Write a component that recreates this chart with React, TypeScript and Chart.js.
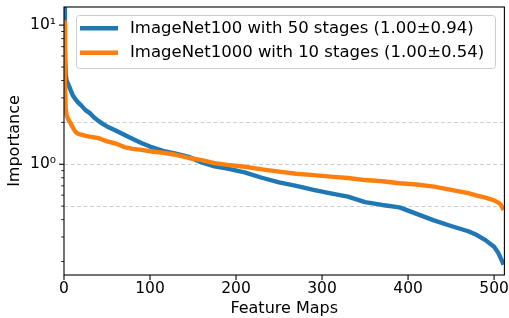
import React, { useEffect, useRef } from 'react';
import { Chart, registerables } from 'chart.js';

Chart.register(...registerables);

const FONT = "'DejaVu Sans', sans-serif";

const featureIdx = [0, 1, 2, 3, 5, 7, 10, 13, 16, 20, 25, 30, 35, 40, 45, 50, 60, 70, 80, 90, 100, 115, 130, 145, 160, 175, 190, 210, 230, 250, 270, 290, 310, 330, 350, 370, 390, 410, 430, 450, 470, 480, 490, 500, 505, 508, 511];

const imagenet100 = [18, 7, 4.4, 4.0, 3.75, 3.5, 3.15, 2.95, 2.8, 2.65, 2.45, 2.33, 2.17, 2.05, 1.95, 1.87, 1.75, 1.63, 1.52, 1.42, 1.34, 1.25, 1.19, 1.13, 1.03, 0.965, 0.93, 0.875, 0.8, 0.74, 0.7, 0.655, 0.617, 0.585, 0.535, 0.51, 0.49, 0.44, 0.395, 0.36, 0.33, 0.31, 0.285, 0.255, 0.23, 0.21, 0.19];

const imagenet1000 = [10.5, 4.0, 2.5, 2.25, 2.1, 2.0, 1.85, 1.72, 1.66, 1.63, 1.6, 1.58, 1.56, 1.54, 1.5, 1.46, 1.41, 1.33, 1.29, 1.27, 1.24, 1.21, 1.17, 1.11, 1.07, 1.02, 0.99, 0.96, 0.92, 0.885, 0.855, 0.835, 0.815, 0.797, 0.77, 0.755, 0.73, 0.715, 0.69, 0.655, 0.62, 0.595, 0.575, 0.55, 0.53, 0.51, 0.47];

const seriesLabels = ['ImageNet100 with 50 stages (1.00±0.94)', 'ImageNet1000 with 10 stages (1.00±0.54)'];
const seriesColors = ['#1f77b4', '#ff7f0e'];

const xTicks = [0, 100, 200, 300, 400, 500];
const yTicks = [0.2, 0.3, 0.4, 0.5, 0.6, 0.7, 0.8, 0.9, 1, 2, 3, 4, 5, 6, 7, 8, 9, 10];
const yMajorTicks = [1, 10];
const yMajorLabels = ['10⁰', '10¹'];
const yGridValues = [0.5, 1, 2];

const axesPlugin = {
  id: 'mplAxes',
  beforeDatasetsDraw(chart: any) {
    const { ctx, chartArea } = chart;
    const y = chart.scales.y;
    ctx.save();
    ctx.strokeStyle = 'rgba(176,176,176,0.6)';
    ctx.lineWidth = 1;
    ctx.setLineDash([4, 2.5]);
    for (const v of yGridValues) {
      const py = Math.round(y.getPixelForValue(v)) + 0.5;
      ctx.beginPath();
      ctx.moveTo(chartArea.left, py);
      ctx.lineTo(chartArea.right, py);
      ctx.stroke();
    }
    ctx.restore();
  },
  afterDatasetsDraw(chart: any) {
    const { ctx, chartArea } = chart;
    const x = chart.scales.x;
    const y = chart.scales.y;
    ctx.save();
    ctx.strokeStyle = '#000';
    ctx.setLineDash([]);
    ctx.lineWidth = 1.1;
    ctx.strokeRect(chartArea.left, chartArea.top, chartArea.right - chartArea.left, chartArea.bottom - chartArea.top);
    for (const v of xTicks) {
      const px = x.getPixelForValue(v);
      ctx.beginPath();
      ctx.moveTo(px, chartArea.bottom);
      ctx.lineTo(px, chartArea.bottom + 4.9);
      ctx.stroke();
    }
    for (const v of yTicks) {
      const major = yMajorTicks.includes(v);
      const py = y.getPixelForValue(v);
      ctx.lineWidth = major ? 1.1 : 0.85;
      const len = major ? 4.9 : 2.8;
      ctx.beginPath();
      ctx.moveTo(chartArea.left - len, py);
      ctx.lineTo(chartArea.left, py);
      ctx.stroke();
    }
    ctx.restore();
  },
  afterDraw(chart: any) {
    const { ctx, chartArea } = chart;
    const bx = chartArea.left + 12;
    const by = chartArea.top + 8;
    const bw = 419;
    const bh = 53;
    ctx.save();
    ctx.beginPath();
    ctx.roundRect(bx + 0.5, by + 0.5, bw, bh, 3);
    ctx.fillStyle = 'rgba(255,255,255,0.8)';
    ctx.fill();
    ctx.strokeStyle = '#cccccc';
    ctx.lineWidth = 1;
    ctx.stroke();
    ctx.font = `16.5px ${FONT}`;
    ctx.textBaseline = 'middle';
    ctx.textAlign = 'left';
    chart.data.datasets.forEach((ds: any, i: number) => {
      const ly = by + 13.3 + i * 24.4;
      ctx.beginPath();
      ctx.strokeStyle = ds.borderColor;
      ctx.lineWidth = 4.4;
      ctx.moveTo(bx + 4, ly);
      ctx.lineTo(bx + 42, ly);
      ctx.stroke();
      ctx.fillStyle = '#000';
      ctx.fillText(ds.label, bx + 54, ly + 0.5);
    });
    ctx.restore();
  },
};

export default function App() {
  const canvasRef = useRef<HTMLCanvasElement | null>(null);

  useEffect(() => {
    const canvas = canvasRef.current;
    if (!canvas) return;
    const mk = (vals: number[]) => featureIdx.map((x, i) => ({ x, y: vals[i] }));
    const chart = new Chart(canvas, {
      type: 'line',
      data: {
        datasets: [
          {
            label: seriesLabels[0],
            data: mk(imagenet100),
            borderColor: seriesColors[0],
            backgroundColor: seriesColors[0],
            borderWidth: 4.4,
            pointRadius: 0,
            tension: 0,
            clip: 0,
            order: 1,
            borderJoinStyle: 'round',
          } as any,
          {
            label: seriesLabels[1],
            data: mk(imagenet1000),
            borderColor: seriesColors[1],
            backgroundColor: seriesColors[1],
            borderWidth: 4.4,
            pointRadius: 0,
            tension: 0,
            clip: 0,
            order: 0,
            borderJoinStyle: 'round',
          } as any,
        ],
      },
      options: {
        responsive: false,
        animation: false,
        devicePixelRatio: 1,
        layout: { padding: { top: 7, right: 4.6, left: 0, bottom: 0 } },
        plugins: { legend: { display: false }, tooltip: { enabled: false } },
        scales: {
          x: {
            type: 'linear',
            min: 0,
            max: 512,
            afterBuildTicks: (s: any) => {
              s.ticks = xTicks.map((v) => ({ value: v }));
            },
            afterFit: (s: any) => {
              s.height = 43;
              s.paddingLeft = 0;
              s.paddingRight = 0;
              s.paddingTop = 0;
              s.paddingBottom = 0;
            },
            grid: { display: false, drawTicks: false },
            border: { display: false },
            ticks: {
              autoSkip: false,
              maxRotation: 0,
              padding: 5,
              color: '#000',
              font: { family: FONT, size: 15.5 },
              callback: (v: any) => String(v),
            },
            title: {
              display: true,
              text: 'Feature Maps',
              color: '#000',
              font: { family: FONT, size: 16 },
              padding: 0,
            },
          },
          y: {
            type: 'logarithmic',
            min: 0.16,
            max: 13.5,
            afterBuildTicks: (s: any) => {
              s.ticks = yTicks.map((v) => ({ value: v, major: yMajorTicks.includes(v) }));
            },
            afterFit: (s: any) => {
              s.width = 64;
              s.paddingLeft = 0;
              s.paddingRight = 0;
              s.paddingTop = 0;
              s.paddingBottom = 0;
            },
            grid: { display: false, drawTicks: false },
            border: { display: false },
            ticks: {
              autoSkip: false,
              padding: 8,
              color: '#000',
              font: { family: FONT, size: 15.5 },
              callback: (v: any) => {
                const k = yMajorTicks.indexOf(Number(v));
                return k >= 0 ? yMajorLabels[k] : '';
              },
            },
            title: {
              display: true,
              text: 'Importance',
              color: '#000',
              font: { family: FONT, size: 16 },
              padding: { top: 5.4, bottom: 0 },
            },
          },
        },
      },
      plugins: [axesPlugin],
    });
    return () => chart.destroy();
  }, []);

  return (
    <div style={{ position: 'absolute', left: 0, top: 0, width: 509, height: 318, background: '#fff' }}>
      <canvas ref={canvasRef} width={509} height={318} style={{ display: 'block' }} />
    </div>
  );
}
